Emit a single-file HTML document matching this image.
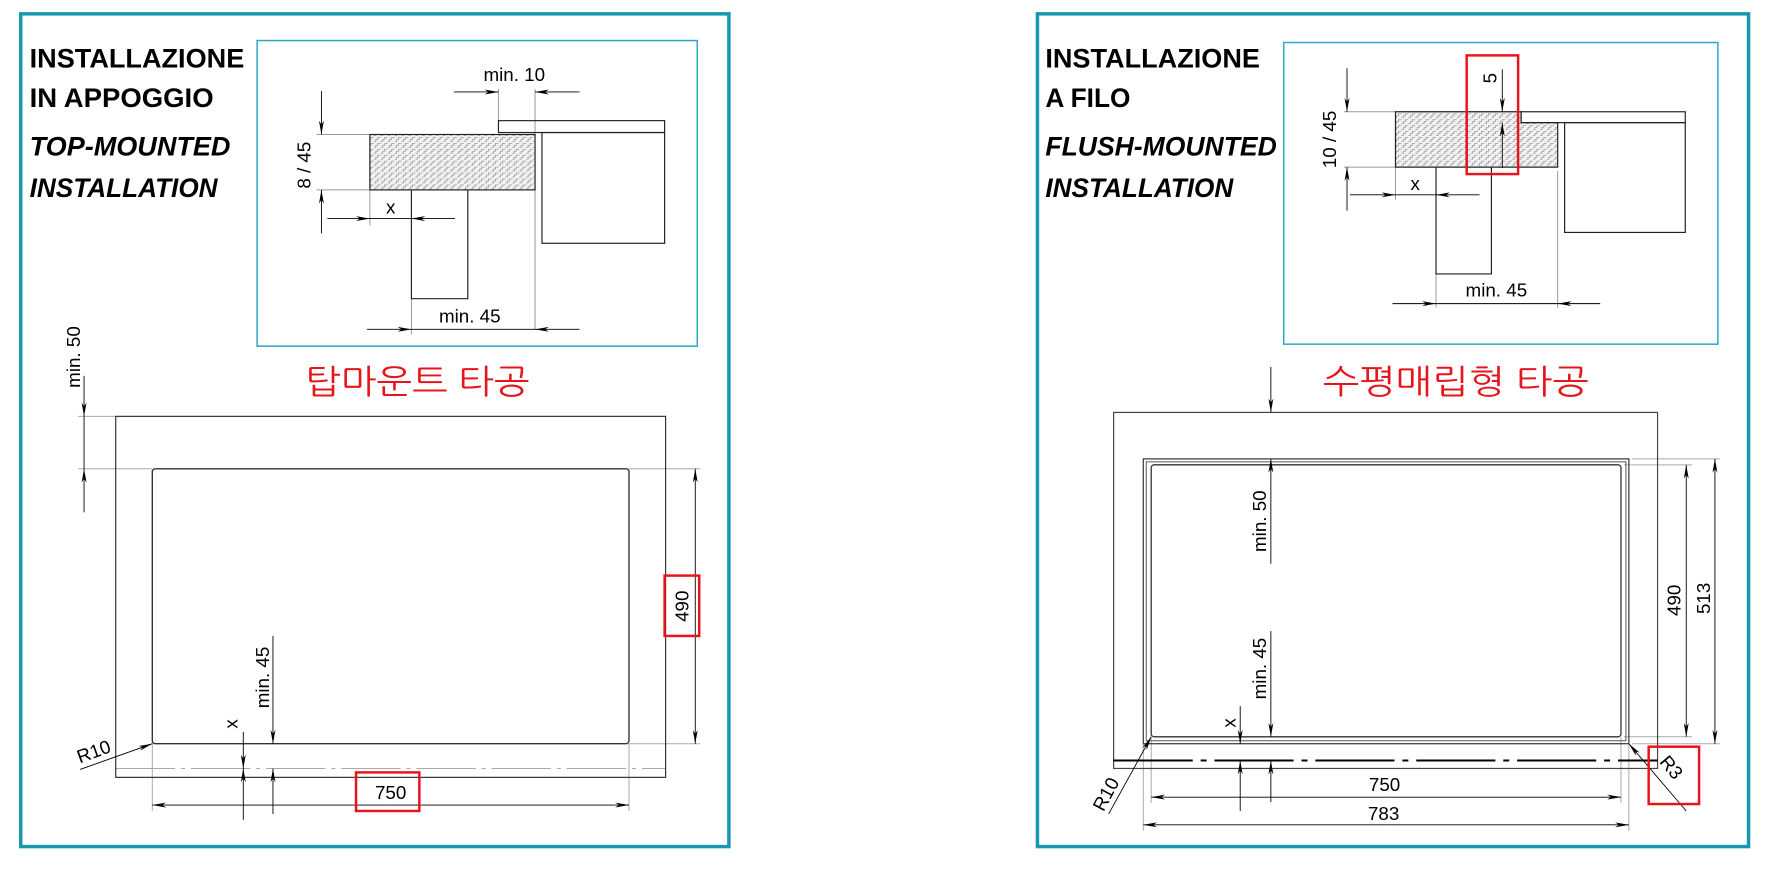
<!DOCTYPE html>
<html><head><meta charset="utf-8"><style>
html,body{margin:0;padding:0;background:#fff}
svg{display:block}
text{font-family:"Liberation Sans","NanumGothic",sans-serif}
</style></head><body>
<svg width="1784" height="883" viewBox="0 0 1784 883" xmlns="http://www.w3.org/2000/svg">
<defs>
<marker id="a" viewBox="0 0 14 5" refX="14" refY="2.5" markerUnits="userSpaceOnUse" markerWidth="14" markerHeight="5" orient="auto"><path d="M0,0 L14,2.5 L0,5 L4,2.5 z" fill="#000"/></marker>
<pattern id="h" width="7" height="6" patternUnits="userSpaceOnUse"><rect width="7" height="6" fill="#f2f2f2"/><path d="M0,5 L2,5 L2,3 L4,3 L4,1 L7,1" fill="none" stroke="#999" stroke-width="0.8"/></pattern>
</defs>
<g transform="scale(0.989)">
<g fill="none" stroke="#1796b0" stroke-width="3.5">
<rect x="21" y="14" width="716" height="842"/>
<rect x="1049" y="14" width="719" height="842"/>
</g>
<g fill="none" stroke="#2aa8c4" stroke-width="1.5">
<rect x="260" y="41" width="445" height="309"/>
</g>
<g font-weight="bold" font-size="27" fill="#000">
<text x="30" y="68" textLength="217" lengthAdjust="spacingAndGlyphs">INSTALLAZIONE</text>
<text x="30" y="108" textLength="186" lengthAdjust="spacingAndGlyphs">IN APPOGGIO</text>
<text x="30" y="157" font-style="italic" textLength="203" lengthAdjust="spacingAndGlyphs">TOP-MOUNTED</text>
<text x="30" y="199" font-style="italic" textLength="190" lengthAdjust="spacingAndGlyphs">INSTALLATION</text>
<text x="1057" y="68" textLength="217" lengthAdjust="spacingAndGlyphs">INSTALLAZIONE</text>
<text x="1057" y="108" textLength="86" lengthAdjust="spacingAndGlyphs">A FILO</text>
<text x="1057" y="157" font-style="italic" textLength="234" lengthAdjust="spacingAndGlyphs">FLUSH-MOUNTED</text>
<text x="1057" y="199" font-style="italic" textLength="190" lengthAdjust="spacingAndGlyphs">INSTALLATION</text>
</g>
<g font-size="34" fill="#e8141b" text-anchor="middle">
<text x="422" y="398" textLength="227" lengthAdjust="spacingAndGlyphs">탑마운트 타공</text>
</g>

<g stroke="#999" stroke-width="1" fill="none">
<line x1="320" y1="136" x2="374" y2="136"/><line x1="320" y1="192" x2="374" y2="192"/>
<line x1="374" y1="192" x2="374" y2="228"/>
<line x1="504" y1="90" x2="504" y2="122"/>
<line x1="541" y1="90" x2="541" y2="333"/>
<line x1="416" y1="302" x2="416" y2="338"/>
</g>
<rect x="374" y="136" width="167" height="56" fill="url(#h)" stroke="#222" stroke-width="1.2"/>
<g stroke="#222" stroke-width="1.2" fill="none">
<rect x="504" y="122" width="168" height="12"/>
<rect x="548" y="134" width="124" height="112"/>
<path d="M416,192 V302 H473 V192"/>
</g>
<g stroke="#000" stroke-width="0.9" fill="none">
<line x1="325" y1="92" x2="325" y2="136" marker-end="url(#a)"/>
<line x1="325" y1="236" x2="325" y2="192" marker-end="url(#a)"/>
<line x1="331" y1="221" x2="374" y2="221" marker-end="url(#a)"/>
<line x1="460" y1="221" x2="416" y2="221" marker-end="url(#a)"/>
<line x1="374" y1="221" x2="416" y2="221"/>
<line x1="459" y1="93" x2="504" y2="93" marker-end="url(#a)"/>
<line x1="586" y1="93" x2="541" y2="93" marker-end="url(#a)"/>
<line x1="371" y1="333" x2="416" y2="333" marker-end="url(#a)"/>
<line x1="586" y1="333" x2="541" y2="333" marker-end="url(#a)"/>
<line x1="416" y1="333" x2="541" y2="333"/>
</g>
<g font-size="19" fill="#000" text-anchor="middle">
<text transform="translate(314,167) rotate(-90)">8 / 45</text>
<text x="395" y="216">x</text>
<text x="520" y="82">min. 10</text>
<text x="475" y="326">min. 45</text>
</g>

<g stroke="#aaa" stroke-width="1" fill="none">
<line x1="79" y1="421" x2="117" y2="421"/>
<line x1="79" y1="474" x2="154" y2="474"/><line x1="636" y1="474" x2="708" y2="474"/>
<line x1="636" y1="752" x2="708" y2="752"/>
<line x1="154" y1="752" x2="154" y2="820"/><line x1="636" y1="752" x2="636" y2="820"/>
<line x1="117" y1="777" x2="673" y2="777" stroke-dasharray="60,6,4,6"/>
</g>
<rect x="117" y="421" width="556" height="365" fill="none" stroke="#333" stroke-width="1.2"/>
<rect x="154" y="474" width="482" height="278" rx="3" fill="none" stroke="#333" stroke-width="1.4"/>
<g stroke="#000" stroke-width="0.9" fill="none">
<line x1="85" y1="380" x2="85" y2="421" marker-end="url(#a)"/>
<line x1="85" y1="518" x2="85" y2="474" marker-end="url(#a)"/>
<line x1="85" y1="421" x2="85" y2="474"/>
<line x1="703" y1="613" x2="703" y2="474" marker-end="url(#a)"/>
<line x1="703" y1="613" x2="703" y2="752" marker-end="url(#a)"/>
<line x1="395" y1="814" x2="154" y2="814" marker-end="url(#a)"/>
<line x1="395" y1="814" x2="636" y2="814" marker-end="url(#a)"/>
<line x1="246" y1="740" x2="246" y2="777" marker-end="url(#a)"/>
<line x1="246" y1="829" x2="246" y2="777" marker-end="url(#a)"/>
<line x1="276" y1="643" x2="276" y2="752" marker-end="url(#a)"/>
<line x1="276" y1="823" x2="276" y2="777" marker-end="url(#a)"/>
<line x1="81" y1="778" x2="154" y2="752" marker-end="url(#a)"/>
</g>
<g font-size="19" fill="#000" text-anchor="middle">
<text transform="translate(81,361) rotate(-90)">min. 50</text>
<text transform="translate(696,613) rotate(-90)">490</text>
<text x="395" y="808">750</text>
<text transform="translate(240,732) rotate(-90)">x</text>
<text transform="translate(272,685) rotate(-90)">min. 45</text>
<text transform="translate(97,766) rotate(-20)">R10</text>
</g>
<g fill="none" stroke="#e8141b" stroke-width="2.5">
<rect x="672" y="582" width="35" height="61"/>
<rect x="360" y="781" width="64" height="39"/>
</g>

<g transform="translate(10,0)">
<rect x="1288" y="43" width="439" height="305" fill="none" stroke="#2aa8c4" stroke-width="1.5"/>
<text x="1462" y="398" font-size="34" fill="#e8141b" text-anchor="middle" textLength="269" lengthAdjust="spacingAndGlyphs">수평매립형 타공</text>
<g stroke="#999" stroke-width="1" fill="none">
<line x1="1349" y1="113" x2="1401" y2="113"/><line x1="1349" y1="169" x2="1401" y2="169"/>
<line x1="1401" y1="169" x2="1401" y2="202"/>
<line x1="1442" y1="277" x2="1442" y2="311"/>
<line x1="1565" y1="173" x2="1565" y2="311"/>
<line x1="1494" y1="124" x2="1522" y2="124"/>
</g>
<path d="M1401,113 H1528 V124 H1565 V169 H1401 Z" fill="url(#h)" stroke="#222" stroke-width="1.2"/>
<g stroke="#222" stroke-width="1.2" fill="none">
<rect x="1528" y="113" width="166" height="11"/>
<rect x="1572" y="124" width="122" height="111"/>
<path d="M1442,169 V277 H1498 V169"/>
</g>
<g stroke="#000" stroke-width="0.9" fill="none">
<line x1="1352" y1="69" x2="1352" y2="113" marker-end="url(#a)"/>
<line x1="1352" y1="213" x2="1352" y2="169" marker-end="url(#a)"/>
<line x1="1355" y1="197" x2="1401" y2="197" marker-end="url(#a)"/>
<line x1="1486" y1="197" x2="1442" y2="197" marker-end="url(#a)"/>
<line x1="1401" y1="197" x2="1442" y2="197"/>
<line x1="1509" y1="70" x2="1509" y2="113" marker-end="url(#a)"/>
<line x1="1509" y1="170" x2="1509" y2="124" marker-end="url(#a)"/>
<line x1="1398" y1="307" x2="1442" y2="307" marker-end="url(#a)"/>
<line x1="1608" y1="307" x2="1565" y2="307" marker-end="url(#a)"/>
<line x1="1442" y1="307" x2="1565" y2="307"/>
</g>
<g font-size="19" fill="#000" text-anchor="middle">
<text transform="translate(1341,141) rotate(-90)">10 / 45</text>
<text x="1421" y="192">x</text>
<text transform="translate(1503,79) rotate(-90)">5</text>
<text x="1503" y="300">min. 45</text>
</g>

<g stroke="#aaa" stroke-width="1" fill="none">
<line x1="1640" y1="464" x2="1729" y2="464"/><line x1="1632" y1="470" x2="1701" y2="470"/>
<line x1="1632" y1="745" x2="1701" y2="745"/><line x1="1640" y1="752" x2="1729" y2="752"/>
<line x1="1154" y1="745" x2="1154" y2="812"/><line x1="1629" y1="745" x2="1629" y2="812"/>
<line x1="1146" y1="752" x2="1146" y2="840"/><line x1="1637" y1="752" x2="1637" y2="840"/>
</g>
<rect x="1116" y="417" width="550" height="360" fill="none" stroke="#444" stroke-width="1.2"/>
<rect x="1146" y="464" width="491" height="288" fill="none" stroke="#333" stroke-width="1.2"/>
<rect x="1149" y="467" width="485" height="282" fill="none" stroke="#555" stroke-width="1"/>
<rect x="1154" y="470" width="475" height="275" rx="3" fill="#fff" stroke="#333" stroke-width="1.3"/>
<line x1="1116" y1="769" x2="1666" y2="769" stroke="#000" stroke-width="2" stroke-dasharray="80,8,6,8"/>
<g stroke="#000" stroke-width="0.9" fill="none">
<line x1="1275" y1="371" x2="1275" y2="417" marker-end="url(#a)"/>
<line x1="1275" y1="570" x2="1275" y2="464" marker-end="url(#a)"/>
<line x1="1275" y1="638" x2="1275" y2="745" marker-end="url(#a)"/>
<line x1="1275" y1="811" x2="1275" y2="769" marker-end="url(#a)"/>
<line x1="1244" y1="714" x2="1244" y2="752" marker-end="url(#a)"/>
<line x1="1244" y1="820" x2="1244" y2="769" marker-end="url(#a)"/>
<line x1="1695" y1="607" x2="1695" y2="470" marker-end="url(#a)"/>
<line x1="1695" y1="607" x2="1695" y2="745" marker-end="url(#a)"/>
<line x1="1724" y1="607" x2="1724" y2="464" marker-end="url(#a)"/>
<line x1="1724" y1="607" x2="1724" y2="752" marker-end="url(#a)"/>
<line x1="1390" y1="806" x2="1154" y2="806" marker-end="url(#a)"/>
<line x1="1390" y1="806" x2="1629" y2="806" marker-end="url(#a)"/>
<line x1="1390" y1="834" x2="1146" y2="834" marker-end="url(#a)"/>
<line x1="1390" y1="834" x2="1637" y2="834" marker-end="url(#a)"/>
<line x1="1111" y1="823" x2="1154" y2="745" marker-end="url(#a)"/>
<line x1="1695" y1="820" x2="1637" y2="752" marker-end="url(#a)"/>
</g>
<g font-size="19" fill="#000" text-anchor="middle">
<text transform="translate(1270,527) rotate(-90)">min. 50</text>
<text transform="translate(1270,676) rotate(-90)">min. 45</text>
<text transform="translate(1239,731) rotate(-90)">x</text>
<text transform="translate(1689,607) rotate(-90)">490</text>
<text transform="translate(1719,605) rotate(-90)">513</text>
<text x="1390" y="800">750</text>
<text x="1389" y="829">783</text>
<text transform="translate(1114,806) rotate(-62)">R10</text>
<text transform="translate(1675,780) rotate(50)">R3</text>
</g>
<g fill="none" stroke="#e8141b" stroke-width="2.5">
<rect x="1473" y="56" width="52" height="120"/>
<rect x="1657" y="755" width="51" height="58"/>
</g>
</g>
</g>
</svg>
</body></html>
